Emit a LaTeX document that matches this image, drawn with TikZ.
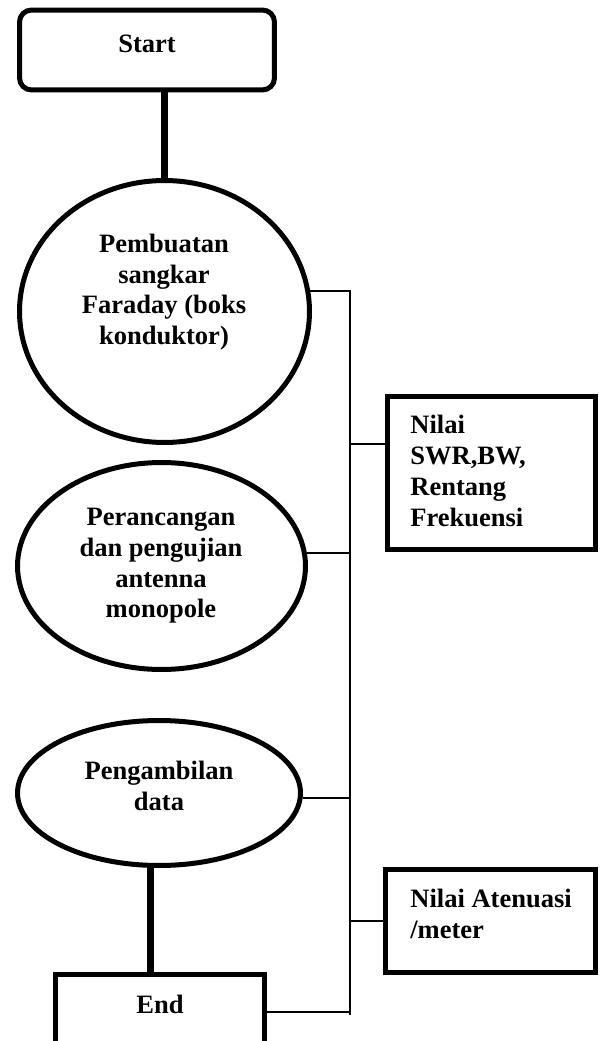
\documentclass[tikz,border=0pt]{standalone}
\usepackage{fontspec}
\setmainfont{Liberation Serif}
\usetikzlibrary{shapes.geometric}

\begin{document}
\begin{tikzpicture}[x=0.02cm,y=-0.02cm,
  every node/.style={font=\fontsize{15.1}{17.5}\selectfont\bfseries, inner sep=0pt},
  stepshape/.style={draw, ellipse, line width=0.1cm},
  boxshape/.style={draw, rectangle, line width=0.1cm},
  flow/.style={line width=0.14cm},
  busline/.style={line width=0.04cm}]
\useasboundingbox (0,0) rectangle (599,1041);
\clip (0,0) rectangle (599,1041);
%Start
\node[boxshape, rounded corners=0.24cm, minimum width=5.1cm, minimum height=1.6cm] (start) at (147,50) {};
\node[anchor=base] (startText) at (147,52) {Start};
%Steps
\node[stepshape, minimum width=5.8cm, minimum height=5.24cm] (make) at (164.5,311.5) {};
\node[align=center] (makeText) at (164,292) {Pembuatan\\sangkar\\Faraday (boks\\konduktor)};
\node[stepshape, minimum width=5.76cm, minimum height=4.14cm] (design) at (161.5,566) {};
\node[align=center] (designText) at (161,566) {Perancangan\\dan pengujian\\antenna\\monopole};
\node[stepshape, minimum width=5.66cm, minimum height=2.9cm] (data) at (159,793) {};
\node[align=center] (dataText) at (159,786) {Pengambilan\\data};
%End
\node[boxshape, minimum width=4.18cm, minimum height=1.5cm] (end) at (160,1012) {};
\node[anchor=base] (endText) at (160,1013) {End};
%Results
\node[boxshape, minimum width=4.16cm, minimum height=3.06cm] (swr) at (491.5,473) {};
\node[align=left, anchor=north west] (swrText) at (410,415) {Nilai\\SWR,BW,\\Rentang\\Frekuensi};
\node[boxshape, minimum width=4.2cm, minimum height=2.06cm] (att) at (490.5,921) {};
\node[align=left, anchor=north west] (attText) at (410,889) {Nilai Atenuasi\\/meter};
%Flow lines
\draw[flow] (make.north |- start.south) -- (make.north);
\draw[flow] ([xshift=-0.18cm]data.south) -- ([xshift=-0.18cm]data.south |- end.north);
%Bus
\coordinate (busX) at (350,1015);
\draw[busline] (make.8) -| (busX);
\draw[busline] (design.5) -- (design.5 -| busX);
\draw[busline] (data.358) -- (data.358 -| busX);
\draw[busline] (end.east) -- (end.east -| busX);
\draw[busline] (busX |- swr.165) -- (swr.165);
\draw[busline] (busX |- att.west) -- (att.west);
\end{tikzpicture}
\end{document}
